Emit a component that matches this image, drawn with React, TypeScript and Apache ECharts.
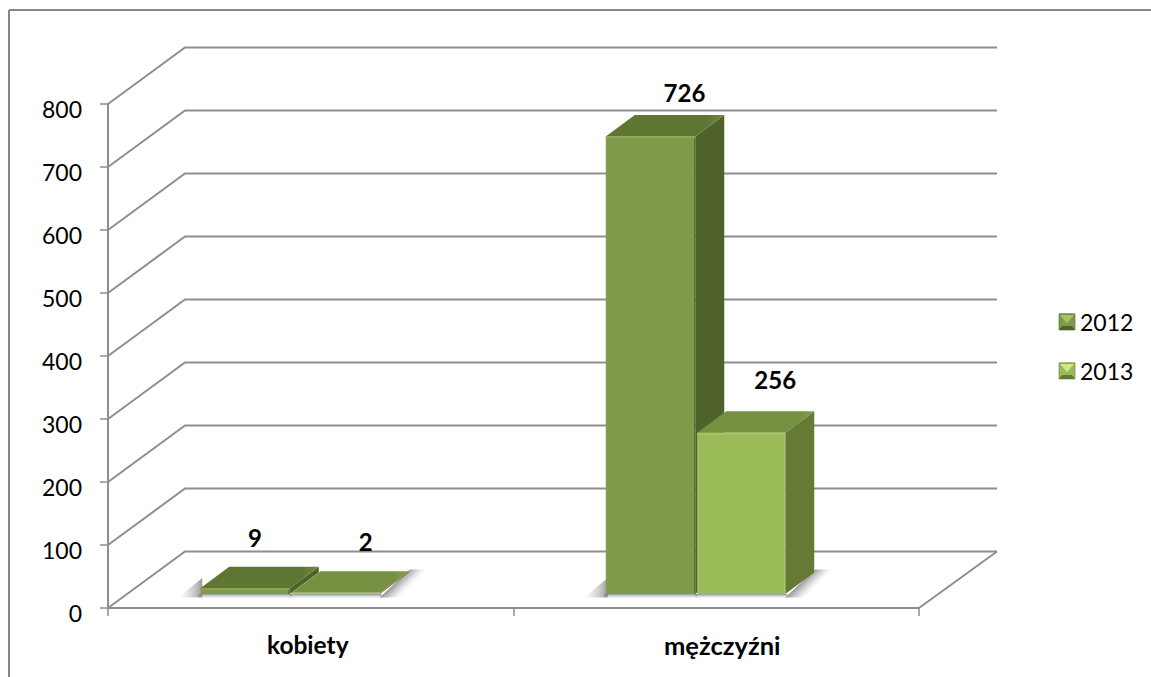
import React, { useEffect, useRef } from "react";
import * as echarts from "echarts";

const categories = ["kobiety", "mężczyźni"];
const seriesNames = ["2012", "2013"];
const values2012 = [9, 726];
const values2013 = [2, 256];
const yTicks = [0, 100, 200, 300, 400, 500, 600, 700, 800];

const FONT = "Lato, Carlito, 'Open Sans', sans-serif";
const GRID_C = "#8e8e8e";
const WALL_DX = 77;
const WALL_DY = 56.5;
const BAR_W = 90;
const DEPTH_X = 29;
const DEPTH_Y = 21.5;
const FLOOR_LIFT = 14;
const CAT_SHIFT = -20.5;

const palette = [
  { front: "#7f9a48", frontEdge: "#8aa452", right: "#5a6f30", top: "#5f7632", topEdge: "#6f883b", side: "#4f622c", base: "#7f9a48" },
  { front: "#9bbb59", frontEdge: "#a8c566", right: "#a8c566", top: "#768f40", topEdge: "#82a045", side: "#657a35", base: "#9bbb59" },
];
// hand-placed data label offsets from the bar's front-face centre / back top edge, as in the source chart
const labelOffsets = [
  [[10, -29], [34, -23]],
  [[30, -30], [34, -32]],
];

function barGeom(api: any, sIdx: number) {
  const cat = api.value(0);
  const val = api.value(1);
  const c0 = api.coord([cat, 0]);
  const c1 = api.coord([cat, val]);
  const base = c0[0] + CAT_SHIFT - BAR_W;
  const x0 = base + sIdx * (BAR_W + 1.5);
  const x1 = base + (sIdx + 1) * BAR_W - 0.5;
  const yB = c0[1] - FLOOR_LIFT;
  const yT = c1[1] - FLOOR_LIFT;
  return { cat, val, x0, x1, yB, yT };
}

function barRender(sIdx: number) {
  return (_p: any, api: any) => {
    const { cat, val, x0, x1, yB, yT } = barGeom(api, sIdx);
    const c = palette[sIdx];
    const off = labelOffsets[sIdx][cat];
    const frontH = yB - yT;
    const edge = 1.5 / (x1 - x0);
    return {
      type: "group",
      children: [
        {
          type: "polygon",
          shape: { points: [[x1, yT], [x1 + DEPTH_X, yT - DEPTH_Y], [x1 + DEPTH_X, yB - DEPTH_Y], [x1, yB]] },
          style: { fill: c.side },
        },
        {
          type: "polygon",
          shape: { points: [[x0, yT], [x0 + DEPTH_X, yT - DEPTH_Y], [x1 + DEPTH_X, yT - DEPTH_Y], [x1, yT]] },
          style: {
            fill: new echarts.graphic.LinearGradient(0, 0, 1, 0, [
              { offset: 0, color: c.top },
              { offset: 0.85, color: c.top },
              { offset: 1, color: c.topEdge },
            ]),
          },
        },
        {
          type: "rect",
          shape: { x: x0, y: yT, width: x1 - x0, height: frontH },
          style: {
            fill: new echarts.graphic.LinearGradient(0, 0, 1, 0, [
              { offset: 0, color: c.frontEdge },
              { offset: edge, color: c.front },
              { offset: 1 - edge, color: c.front },
              { offset: 1 - edge, color: c.right },
              { offset: 1, color: c.right },
            ]),
          },
        },
        {
          type: "rect",
          shape: { x: x0, y: yT, width: x1 - x0, height: Math.min(2, frontH) },
          style: { fill: c.frontEdge },
        },
        {
          type: "text",
          style: {
            text: String(val),
            x: (x0 + x1) / 2 + off[0],
            y: yT - DEPTH_Y + off[1],
            align: "center",
            verticalAlign: "middle",
            font: `bold 24px ${FONT}`,
            fill: "#000",
          },
        },
      ],
    };
  };
}

function shadowRender(_p: any, api: any) {
  const cat = api.value(0);
  const sIdx = api.value(2);
  const { x0, x1, yB } = barGeom(
    { value: (i: number) => (i === 0 ? cat : api.value(1)), coord: api.coord },
    sIdx
  );
  const isFirst = sIdx === 0;
  const kids: any[] = [
    {
      type: "rect",
      shape: { x: x0 - 2, y: yB, width: x1 - x0 + 4, height: 4.5 },
      style: {
        fill: new echarts.graphic.LinearGradient(0, 0, 0, 1, [
          { offset: 0, color: "rgba(120,120,120,0.8)" },
          { offset: 1, color: "rgba(190,190,190,0)" },
        ]),
      },
    },
  ];
  if (isFirst) {
    kids.push({
      type: "polygon",
      shape: { points: [[x0 - 22, yB + 3.5], [x0 + 2, yB + 3.5], [x0 + 2, yB - 16]] },
      style: {
        fill: new echarts.graphic.LinearGradient(0, 0, 1, 0, [
          { offset: 0, color: "rgba(190,190,190,0)" },
          { offset: 0.7, color: "rgba(150,150,150,0.55)" },
          { offset: 1, color: "rgba(110,110,110,0.7)" },
        ]),
      },
    });
  } else {
    const sx = x1;
    const sy = yB + 3.5;
    kids.push({
      type: "polygon",
      shape: {
        points: [
          [sx, sy],
          [sx + DEPTH_X + 1, yB - DEPTH_Y - 3],
          [sx + DEPTH_X + 19, yB - DEPTH_Y - 3],
          [sx + 19, sy],
        ],
      },
      style: {
        fill: new echarts.graphic.LinearGradient(
          sx + 4, sy - 4, sx + 14, sy + 6,
          [
            { offset: 0, color: "rgba(125,125,125,0.85)" },
            { offset: 0.5, color: "rgba(170,170,170,0.5)" },
            { offset: 1, color: "rgba(210,210,210,0)" },
          ],
          true
        ),
      },
    });
  }
  return { type: "group", children: kids };
}

function wallRender(params: any, api: any) {
  const v = api.value(1);
  const cs = params.coordSys;
  const y = api.coord([0, v])[1];
  const left = cs.x;
  const shapes: any[] = [
    {
      type: "polyline",
      shape: {
        points: [
          [left, y],
          [left + WALL_DX, y - WALL_DY],
          [left + cs.width + WALL_DX + 1, y - WALL_DY],
        ],
      },
      style: { stroke: GRID_C, lineWidth: 2, fill: "none" },
    },
  ];
  if (v === 0) {
    shapes.push({
      type: "line",
      shape: { x1: left + cs.width, y1: y, x2: left + cs.width + WALL_DX + 1, y2: y - WALL_DY },
      style: { stroke: GRID_C, lineWidth: 2 },
    });
  }
  return { type: "group", children: shapes };
}

function bevel(x: number, y: number, light: string, dark: string, mid: string) {
  const s = 16;
  return [
    { type: "rect", shape: { x, y, width: s, height: s }, style: { fill: mid, stroke: dark, lineWidth: 0.6 }, z: 20 },
    { type: "polygon", shape: { points: [[x + 1, y + 1], [x + s - 1, y + 1], [x + s / 2, y + s - 7]] }, style: { fill: light }, z: 21 },
    { type: "polygon", shape: { points: [[x, y + s], [x + s, y + s], [x + s - 3, y + s - 4], [x + 3, y + s - 4]] }, style: { fill: dark }, z: 21 },
  ];
}

export default function App() {
  const ref = useRef<HTMLDivElement>(null);
  useEffect(() => {
    if (!ref.current) return;
    const chart = echarts.init(ref.current, undefined, { renderer: "svg" });
    const toBarData = (vals: number[]) => vals.map((v, i) => [i, v]);
    const shadowData = [
      ...values2012.map((_, i) => [i, 0, 0]),
      ...values2013.map((_, i) => [i, 0, 1]),
    ];
    chart.setOption({
      animation: false,
      backgroundColor: "#ffffff",
      grid: { left: 108, top: 104, width: 811, height: 504, containLabel: false },
      legend: {
        data: seriesNames,
        orient: "vertical",
        left: 1059,
        top: 310,
        padding: 0,
        icon: "rect",
        itemWidth: 16,
        itemHeight: 16,
        itemGap: 26,
        selectedMode: false,
        textStyle: { fontFamily: FONT, fontSize: 23, color: "#000", height: 22, lineHeight: 22 },
      },
      xAxis: {
        type: "category",
        data: categories,
        boundaryGap: true,
        axisLine: { show: true, lineStyle: { color: GRID_C, width: 2 } },
        axisTick: { show: true, length: 8, lineStyle: { color: GRID_C, width: 1.5 } },
        axisLabel: {
          color: "#000",
          fontFamily: FONT,
          fontSize: 24,
          fontWeight: "bold",
          margin: 24,
          formatter: (v: string, i: number) => (i === 0 ? `{a|${v}}` : `{b|${v}}`),
          rich: {
            a: { fontFamily: FONT, fontSize: 24.5, fontWeight: "bold", color: "#000", padding: [0, 6, 0, 0] },
            b: { fontFamily: FONT, fontSize: 25.5, fontWeight: "bold", color: "#000", padding: [0, 0, 0, 12] },
          },
        },
        splitLine: { show: false },
      },
      yAxis: {
        type: "value",
        min: 0,
        max: 800,
        interval: 100,
        axisLine: { show: true, lineStyle: { color: GRID_C, width: 2 } },
        axisTick: { show: true, length: 8, lineStyle: { color: GRID_C, width: 1.5 } },
        axisLabel: { color: "#000", fontFamily: FONT, fontSize: 23, margin: 26, verticalAlign: "top", lineHeight: 9 },
        splitLine: { show: false },
      },
      graphic: [
        { type: "line", shape: { x1: 9, y1: 10, x2: 1151, y2: 10 }, style: { stroke: "#868686", lineWidth: 2 }, silent: true, z: 30 },
        { type: "line", shape: { x1: 9, y1: 10, x2: 9, y2: 677 }, style: { stroke: "#868686", lineWidth: 2 }, silent: true, z: 30 },
        ...bevel(1059, 314, "#a9c168", "#4f622c", "#7f9a48"),
        ...bevel(1059, 363, "#d3e58e", "#657a35", "#9bbb59"),
      ],
      series: [
        {
          name: "walls",
          type: "custom",
          coordinateSystem: "cartesian2d",
          data: yTicks.map((v) => [0, v]),
          encode: { x: 0, y: 1 },
          renderItem: wallRender,
          z: 1,
          silent: true,
        },
        {
          name: "shadows",
          type: "custom",
          coordinateSystem: "cartesian2d",
          data: shadowData,
          encode: { x: 0, y: 1 },
          renderItem: shadowRender,
          z: 2,
          silent: true,
        },
        {
          name: seriesNames[0],
          type: "custom",
          coordinateSystem: "cartesian2d",
          data: toBarData(values2012),
          encode: { x: 0, y: 1 },
          renderItem: barRender(0),
          itemStyle: { color: palette[0].base },
          z: 3,
        },
        {
          name: seriesNames[1],
          type: "custom",
          coordinateSystem: "cartesian2d",
          data: toBarData(values2013),
          encode: { x: 0, y: 1 },
          renderItem: barRender(1),
          itemStyle: { color: palette[1].base },
          z: 4,
        },
      ],
    });
    return () => chart.dispose();
  }, []);
  return (
    <div
      ref={ref}
      style={{ position: "fixed", left: 0, top: 0, width: 1151, height: 677 }}
    />
  );
}
